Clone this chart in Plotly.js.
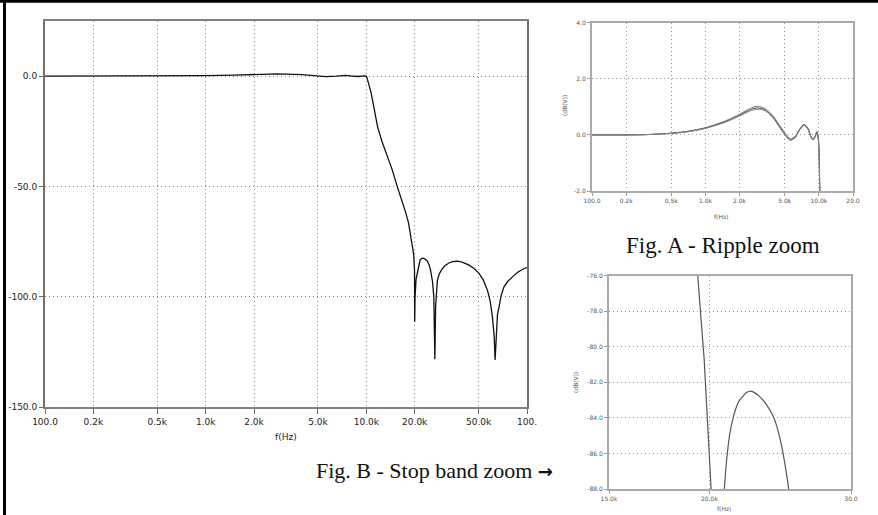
<!DOCTYPE html>
<html>
<head>
<meta charset="utf-8">
<script src="https://cdn.plot.ly/plotly-3.0.1.min.js"></script>
<style>
html,body{margin:0;padding:0;background:#fff;}
#chart{width:878px;height:515px;}
</style>
</head>
<body>
<div id="chart"></div>
<script>
// ---------- Main chart: full response ----------
const mainFreq = [100, 200, 300, 500, 700, 1000, 1500, 2000, 2800, 4000, 5000, 5600, 6500, 7400, 8200, 8900, 9600, 9900, 10000,
  10100, 10200, 10400, 10700, 11200, 11750, 12500, 13600, 14500, 15600, 16600, 17650, 18300, 18800, 19340, 19700, 19950,
  20000, 20100, 20400, 20870, 21200, 21600, 22000, 22450, 23100, 24000, 24600, 25100, 25800, 26300, 26700, 27000,
  27700, 28500, 29800, 31000, 32800, 34500, 36900, 39500, 43600, 47000, 50300, 53500, 56700, 59000, 60900, 62500, 63300,
  64300, 65500, 67000, 69000, 71900, 76000, 81100, 88000, 95800, 100000];
const mainDb = [0, 0, 0, 0.06, 0.13, 0.25, 0.48, 0.72, 1.0, 0.72, 0.1, -0.19, 0.05, 0.38, 0.05, -0.17, 0.11, 0.05, 0,
  -0.8, -2, -4, -7.5, -15, -23, -29.5, -36.6, -42.5, -50.2, -56, -62.2, -66.5, -71.3, -76, -80.7, -88,
  -111.4, -100, -92, -88, -84.9, -83.4, -82.8, -82.5, -82.8, -83.9, -85.6, -88, -93, -100, -128.4, -104,
  -92.5, -89.5, -87.2, -85.8, -84.6, -84.1, -83.9, -84.3, -85.7, -87.3, -89.4, -92.5, -97, -102, -109, -118, -128.7,
  -115, -108, -104.6, -99.5, -95.5, -93, -91, -88.8, -87.2, -86.8];
const mainXTickVals = [100, 200, 500, 1000, 2000, 5000, 10000, 20000, 50000, 100000];
const mainXTickText = ["100.0", "0.2k", "0.5k", "1.0k", "2.0k", "5.0k", "10.0k", "20.0k", "50.0k", "100."];
const mainYTickVals = [0, -50, -100, -150];
const mainYTickText = ["0.0", "-50.0", "-100.0", "-150.0"];

// ---------- Fig. A: ripple zoom ----------
const rippleFreq = [100, 200, 300, 500, 700, 1000, 1500, 2000, 2500, 2800, 3200, 3600, 4000, 4500, 5000, 5600, 6200, 6800,
  7400, 8000, 8600, 8900, 9300, 9600, 9900, 10050, 10150, 10250];
const rippleHi = [0, 0, 0.01, 0.06, 0.13, 0.26, 0.5, 0.74, 0.95, 1.02, 0.98, 0.85, 0.65, 0.35, 0.08, -0.14, -0.05, 0.22,
  0.38, 0.25, -0.08, -0.15, -0.02, 0.12, -0.1, -0.6, -1.5, -2.5];
const rippleMid = [0, 0, 0.01, 0.06, 0.12, 0.24, 0.47, 0.7, 0.9, 0.96, 0.93, 0.8, 0.6, 0.3, 0.03, -0.18, -0.08, 0.2,
  0.36, 0.22, -0.1, -0.17, -0.05, 0.1, -0.15, -0.7, -1.6, -2.5];
const rippleLo = [0, 0, 0.01, 0.05, 0.11, 0.23, 0.45, 0.67, 0.86, 0.91, 0.89, 0.77, 0.57, 0.27, 0.0, -0.2, -0.1, 0.18,
  0.34, 0.2, -0.12, -0.19, -0.07, 0.08, -0.2, -0.8, -1.7, -2.5];
const aXTickVals = [100, 200, 500, 1000, 2000, 5000, 10000, 20000];
const aXTickText = ["100.0", "0.2k", "0.5k", "1.0k", "2.0k", "5.0k", "10.0k", "20.0"];
const aYTickVals = [-2, 0, 2, 4];
const aYTickText = ["-2.0", "0.0", "2.0", "4.0"];

// ---------- Fig. B: stop band zoom ----------
const stopFreqEdge = [19200, 19340, 19700, 20090, 20150];
const stopDbEdge = [-73.8, -76, -80.7, -88, -89];
const stopFreqLobe = [20760, 20870, 20950, 21050, 21200, 21400, 21600, 21800, 22000, 22200, 22450, 22700, 23100, 23500,
  24000, 24300, 24600, 24850, 25100, 25300];
const stopDbLobe = [-89, -88, -87, -86, -84.9, -84, -83.4, -83, -82.8, -82.6, -82.5, -82.55, -82.8, -83.2,
  -83.9, -84.6, -85.6, -86.7, -88, -89];
const bXTickVals = [15000, 20000, 30000];
const bXTickText = ["15.0k", "20.0k", "30.0"];
const bYTickVals = [-76, -78, -80, -82, -84, -86, -88];
const bYTickText = ["-76.0", "-78.0", "-80.0", "-82.0", "-84.0", "-86.0", "-88.0"];

const W = 878, H = 515;
const px = v => v / W;
const py = v => 1 - v / H;

const traces = [
  {x: mainFreq, y: mainDb, xaxis: 'x', yaxis: 'y', mode: 'lines', line: {color: '#111', width: 1.3}},
  {x: rippleFreq, y: rippleHi, xaxis: 'x2', yaxis: 'y2', mode: 'lines', line: {color: '#777', width: 1, shape: 'spline', smoothing: 0.6}},
  {x: rippleFreq, y: rippleMid, xaxis: 'x2', yaxis: 'y2', mode: 'lines', line: {color: '#444', width: 1, shape: 'spline', smoothing: 0.6}},
  {x: rippleFreq, y: rippleLo, xaxis: 'x2', yaxis: 'y2', mode: 'lines', line: {color: '#888', width: 1, shape: 'spline', smoothing: 0.6}},
  {x: stopFreqEdge, y: stopDbEdge, xaxis: 'x3', yaxis: 'y3', mode: 'lines', line: {color: '#555', width: 1.2}},
  {x: stopFreqLobe, y: stopDbLobe, xaxis: 'x3', yaxis: 'y3', mode: 'lines', line: {color: '#555', width: 1.2, shape: 'spline', smoothing: 0.8}}
];

const tickFontMain = {family: 'DejaVu Sans', size: 9, color: '#222'};
const tickFontSmall = {family: 'DejaVu Sans', size: 6, color: '#555'};
const gridCommon = {griddash: '1px,3px', gridwidth: 1, zeroline: false, showline: true, mirror: true, ticks: 'outside'};

const layout = {
  width: W, height: H,
  margin: {l: 0, r: 0, t: 0, b: 0},
  paper_bgcolor: '#fff', plot_bgcolor: '#fff',
  showlegend: false,
  xaxis: Object.assign({}, gridCommon, {
    type: 'log', range: [2, 5], domain: [px(45), px(527)], anchor: 'y',
    tickvals: mainXTickVals, ticktext: mainXTickText, tickfont: tickFontMain,
    gridcolor: '#888', linecolor: '#808080', linewidth: 2, ticklen: 5, tickcolor: '#666'
  }),
  yaxis: Object.assign({}, gridCommon, {
    range: [-150, 25], domain: [py(407), py(21)], anchor: 'x',
    tickvals: mainYTickVals, ticktext: mainYTickText, tickfont: tickFontMain,
    gridcolor: '#888', linecolor: '#707070', linewidth: 2, ticklen: 4, tickcolor: '#666'
  }),
  xaxis2: Object.assign({}, gridCommon, {
    type: 'log', range: [2, Math.log10(20000)], domain: [px(592), px(853)], anchor: 'y2',
    tickvals: aXTickVals, ticktext: aXTickText, tickfont: tickFontSmall,
    gridcolor: '#999', linecolor: '#aaa', linewidth: 2, ticklen: 3, tickcolor: '#999'
  }),
  yaxis2: Object.assign({}, gridCommon, {
    range: [-2, 4], domain: [py(191), py(22.7)], anchor: 'x2',
    tickvals: aYTickVals, ticktext: aYTickText, tickfont: tickFontSmall,
    gridcolor: '#999', linecolor: '#aaa', linewidth: 2, ticklen: 3, tickcolor: '#999'
  }),
  xaxis3: Object.assign({}, gridCommon, {
    type: 'log', range: [Math.log10(15000), Math.log10(30000)], domain: [px(609), px(851)], anchor: 'y3',
    tickvals: bXTickVals, ticktext: bXTickText, tickfont: tickFontSmall,
    gridcolor: '#999', linecolor: '#aaa', linewidth: 2, ticklen: 3, tickcolor: '#999'
  }),
  yaxis3: Object.assign({}, gridCommon, {
    range: [-88, -76], domain: [py(489), py(275.7)], anchor: 'x3',
    tickvals: bYTickVals, ticktext: bYTickText, tickfont: tickFontSmall,
    gridcolor: '#999', linecolor: '#aaa', linewidth: 2, ticklen: 3, tickcolor: '#999'
  }),
  shapes: [
    {type: 'line', xref: 'paper', yref: 'paper', x0: 0, x1: 1, y0: py(1.3), y1: py(1.3), line: {color: '#000', width: 3}},
    {type: 'line', xref: 'paper', yref: 'paper', x0: px(4.5), x1: px(4.5), y0: 0, y1: 1, line: {color: '#000', width: 3}}
  ],
  annotations: [
    {xref: 'paper', yref: 'paper', x: px(286), y: py(437), text: 'f(Hz)', showarrow: false,
     font: {family: 'DejaVu Sans', size: 9, color: '#222'}, xanchor: 'center', yanchor: 'middle'},
    {xref: 'paper', yref: 'paper', x: px(721), y: py(216), text: 'f(Hz)', showarrow: false,
     font: {family: 'DejaVu Sans', size: 6, color: '#555'}, xanchor: 'center', yanchor: 'middle'},
    {xref: 'paper', yref: 'paper', x: px(564), y: py(106), text: '(dB(V))', showarrow: false, textangle: -90,
     font: {family: 'DejaVu Sans', size: 6, color: '#555'}, xanchor: 'center', yanchor: 'middle'},
    {xref: 'paper', yref: 'paper', x: px(724), y: py(508), text: 'f(Hz)', showarrow: false,
     font: {family: 'DejaVu Sans', size: 6, color: '#555'}, xanchor: 'center', yanchor: 'middle'},
    {xref: 'paper', yref: 'paper', x: px(575), y: py(383), text: '(dB(V))', showarrow: false, textangle: -90,
     font: {family: 'DejaVu Sans', size: 6, color: '#555'}, xanchor: 'center', yanchor: 'middle'},
    {xref: 'paper', yref: 'paper', x: px(723), y: py(245), text: 'Fig. A - Ripple zoom', showarrow: false,
     font: {family: 'Liberation Serif', size: 23, color: '#111'}, xanchor: 'center', yanchor: 'middle'},
    {xref: 'paper', yref: 'paper', x: px(434), y: py(470),
     text: 'Fig. B - Stop band zoom <span style="font-family:DejaVu Sans;font-weight:bold;font-size:18px">\u2192</span>',
     showarrow: false,
     font: {family: 'Liberation Serif', size: 22, color: '#111'}, xanchor: 'center', yanchor: 'middle'}
  ]
};

Plotly.newPlot('chart', traces, layout, {staticPlot: true, displayModeBar: false});
</script>
</body>
</html>
